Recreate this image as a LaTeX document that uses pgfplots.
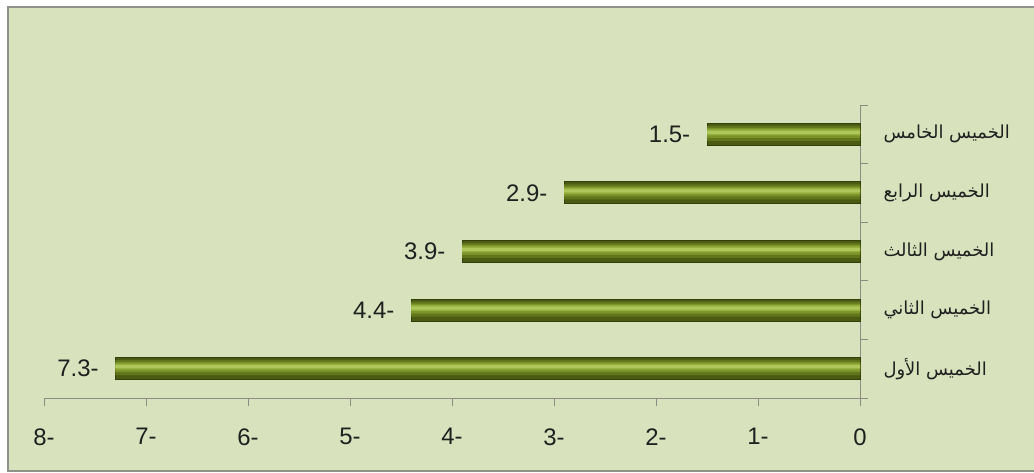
\documentclass[border=0pt]{standalone}
\usepackage{fontspec}
\setmainfont{Liberation Sans}
\newfontfamily\arabicfont[Script=Arabic]{DejaVu Sans}
\TeXXeTstate=1
\usepackage{pgfplots}
\usepackage{pgfplotstable}
\pgfplotsset{compat=1.18}
\definecolor{bgc}{HTML}{D8E3BD}
\definecolor{framec}{HTML}{8E9289}
\definecolor{axc}{HTML}{8C8C84}
\definecolor{baredge}{HTML}{333F0A}
\definecolor{barA}{HTML}{4B5B12}
\definecolor{barB}{HTML}{61761C}
\definecolor{barC}{HTML}{7A9429}
\definecolor{barD}{HTML}{95B03E}
\definecolor{barE}{HTML}{AEC75A}
\pgfplotstableread{
y  x    lab
1  -7.3 7.3-
2  -4.4 4.4-
3  -3.9 3.9-
4  -2.9 2.9-
5  -1.5 1.5-
}\weeks
\begin{document}
\begin{tikzpicture}[x=1bp,y=1bp]
\useasboundingbox (0,0) rectangle (1034,473);
\fill[white] (0,0) rectangle (1034,473);
\fill[bgc] (8,2) rectangle (1034,466);
\draw[framec,line width=1.5bp] (1034,2) -- (8,2) -- (8,466) -- (1034,466);
\begin{axis}[
  at={(44bp,75bp)}, anchor=south west,
  scale only axis, width=816bp, height=293bp,
  xmin=-8, xmax=0, ymin=0.5, ymax=5.5,
  enlargelimits=false,
  axis x line=bottom, axis y line=right,
  axis line style={axc, line width=0.8bp, -},
  xtick={-8,-7,-6,-5,-4,-3,-2,-1,0},
  xticklabels={8-,7-,6-,5-,4-,3-,2-,1-,0},
  xtick align=outside, ytick align=inside,
  major tick length=8bp,
  tick style={axc, line width=0.8bp},
  ytick={0.5,1.5,2.5,3.5,4.5,5.5},
  yticklabels={},
  extra y ticks={1,2,3,4,5},
  extra y tick labels={
    {\arabicfont\beginR الخميس الأول\endR},
    {\arabicfont\beginR الخميس الثاني\endR},
    {\arabicfont\beginR الخميس الثالث\endR},
    {\arabicfont\beginR الخميس الرابع\endR},
    {\arabicfont\beginR الخميس الخامس\endR}},
  extra y tick style={major tick length=0pt, yticklabel style={xshift=20bp, font=\fontsize{18}{20}\selectfont, text=black!88}},
  xticklabel style={font=\fontsize{24}{26}\selectfont, text=black!88, yshift=-19bp},
  xbar, clip=false,
]
\addplot[xbar, bar shift=0bp, bar width=22bp, draw=baredge, line width=1bp, fill=barA,
  point meta=explicit symbolic, nodes near coords,
  every node near coord/.append style={anchor=east, xshift=-13bp, font=\fontsize{24}{26}\selectfont, text=black!88}]
  table[x=x, y=y, meta=lab] {\weeks};
\addplot[xbar, bar shift=1bp, bar width=15bp, draw=none, fill=barB] table[x=x, y=y] {\weeks};
\addplot[xbar, bar shift=1.5bp, bar width=10bp, draw=none, fill=barC] table[x=x, y=y] {\weeks};
\addplot[xbar, bar shift=2bp, bar width=6bp, draw=none, fill=barD] table[x=x, y=y] {\weeks};
\addplot[xbar, bar shift=2bp, bar width=3bp, draw=none, fill=barE] table[x=x, y=y] {\weeks};
\end{axis}
\end{tikzpicture}
\end{document}
